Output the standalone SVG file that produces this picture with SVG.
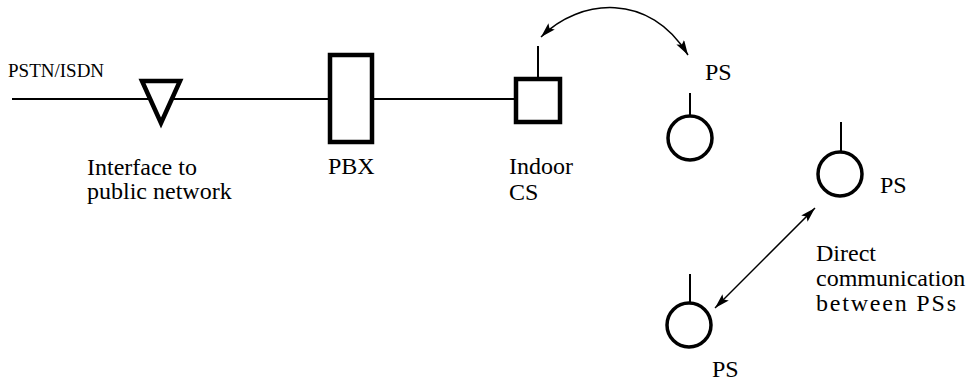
<svg xmlns="http://www.w3.org/2000/svg" width="970" height="385" viewBox="0 0 970 385">
  <defs>
    <style>
      .wire { stroke: #000; stroke-width: 2; fill: none; }
      .box { stroke: #000; stroke-width: 4.5; fill: #fff; }
      .ps { stroke: #000; stroke-width: 3.5; fill: #fff; }
      .ant { stroke: #000; stroke-width: 2; }
      .link { stroke: #000; stroke-width: 1.5; fill: none; marker-start: url(#head); marker-end: url(#head); }
      text { font-family: "Liberation Serif", "Times New Roman", serif; font-size: 24px; fill: #000; }
      .small { font-size: 19px; }
    </style>
    <marker id="head" markerUnits="userSpaceOnUse" markerWidth="16" markerHeight="10" refX="15" refY="4.5" orient="auto-start-reverse">
      <path d="M0,0 L15,4.5 L0,9 L3,4.5 z" fill="#000"/>
    </marker>
  </defs>

  <!-- trunk line from the public network through the PBX to the indoor CS, plus the radio links -->
  <g id="connectors">
    <line class="wire" x1="12" y1="99" x2="330" y2="99"/>
    <line class="wire" x1="372" y1="99" x2="516" y2="99"/>
    <path class="link" d="M541,37 C580,-2 650,-8 688,55"/>
    <line class="link" x1="715" y1="308" x2="815" y2="208"/>
  </g>

  <g id="pstn">
    <text class="small" x="8" y="77">PSTN/ISDN</text>
  </g>

  <g id="interface">
    <polygon class="box" points="142,81 180,81 161,123" stroke-width="4"/>
    <text x="87" y="175">Interface to</text>
    <text x="87" y="199">public network</text>
  </g>

  <g id="pbx">
    <rect class="box" x="330" y="55" width="42" height="87"/>
    <text x="328" y="174">PBX</text>
  </g>

  <g id="indoor-cs">
    <line class="ant" x1="538" y1="46" x2="538" y2="79"/>
    <rect class="box" x="516" y="79" width="44" height="43"/>
    <text x="509" y="174">Indoor</text>
    <text x="509" y="200">CS</text>
  </g>

  <g id="ps-top">
    <line class="ant" x1="690" y1="93" x2="690" y2="116"/>
    <circle class="ps" cx="690" cy="138" r="22"/>
    <text x="705" y="80">PS</text>
  </g>

  <g id="ps-right">
    <line class="ant" x1="841" y1="122" x2="841" y2="152"/>
    <circle class="ps" cx="840" cy="174" r="22"/>
    <text x="880" y="193">PS</text>
  </g>

  <g id="ps-bottom">
    <line class="ant" x1="690" y1="274" x2="690" y2="303"/>
    <circle class="ps" cx="689" cy="325" r="22"/>
    <text x="712" y="377">PS</text>
  </g>

  <g id="direct-label">
    <text x="816" y="261">Direct</text>
    <text x="816" y="286">communication</text>
    <text x="816" y="311" textLength="140" lengthAdjust="spacing">between PSs</text>
  </g>
</svg>
